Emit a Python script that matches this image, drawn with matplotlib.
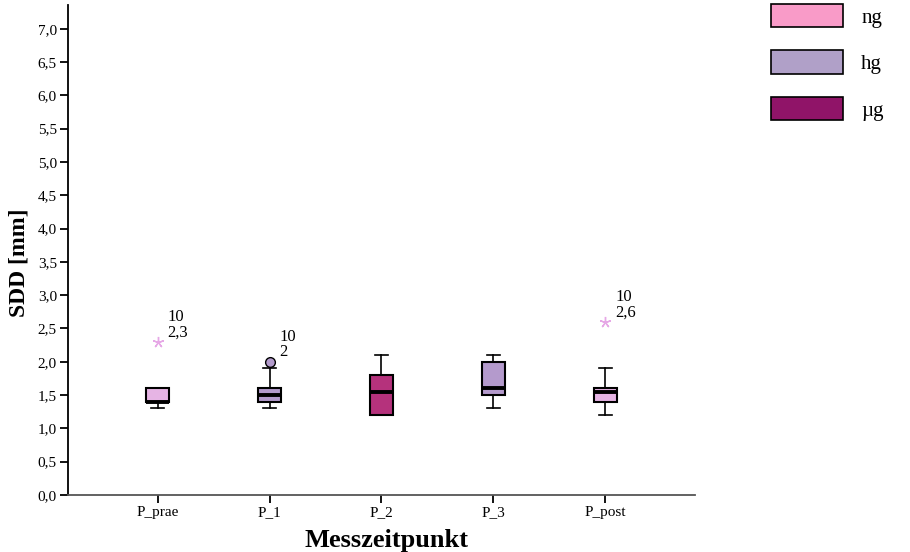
import matplotlib
matplotlib.use("Agg")
import matplotlib.pyplot as plt
import matplotlib.patches as mpatches

plt.rcParams['font.family'] = ['Liberation Serif', 'DejaVu Serif']

# box statistics per measurement point
categories = ["P_prae", "P_1", "P_2", "P_3", "P_post"]
whisker_low = [1.3, 1.3, 1.2, 1.3, 1.2]
q1 = [1.4, 1.4, 1.2, 1.5, 1.4]
medians = [1.4, 1.5, 1.55, 1.6, 1.55]
q3 = [1.6, 1.6, 1.8, 2.0, 1.6]
whisker_high = [1.6, 1.9, 2.1, 2.1, 1.9]
box_colors = ["#e6b4e4", "#b39bcc", "#b5327c", "#b49acc", "#e6b4e4"]

# outliers: (category index, value, case number, marker)
outlier_idx = [0, 1, 4]
outlier_val = [2.3, 2.0, 2.6]
outlier_case = ["10", "10", "10"]
outlier_text = ["2,3", "2", "2,6"]
outlier_marker = ["*", "o", "*"]

legend_labels = ["ng", "hg", "µg"]
legend_colors = ["#f99bc8", "#b0a0c8", "#901468"]

y_ticks = [0.0, 0.5, 1.0, 1.5, 2.0, 2.5, 3.0, 3.5, 4.0, 4.5, 5.0, 5.5, 6.0, 6.5, 7.0]

fig = plt.figure(figsize=(9.1, 5.52), dpi=100)
ax = fig.add_axes([0.0747, 0.1033, 0.689, 0.888])

stats = []
for i, name in enumerate(categories):
    stats.append({"label": name, "whislo": whisker_low[i], "q1": q1[i],
                  "med": medians[i], "q3": q3[i], "whishi": whisker_high[i],
                  "fliers": []})

bp = ax.bxp(stats, positions=range(1, len(categories) + 1), widths=0.21,
            patch_artist=True, showfliers=False,
            boxprops=dict(linewidth=1.5, edgecolor="black"),
            medianprops=dict(color="black", linewidth=2.8),
            whiskerprops=dict(color="black", linewidth=1.2),
            capprops=dict(color="black", linewidth=1.2),
            capwidths=0.12)
for patch, c in zip(bp["boxes"], box_colors):
    patch.set_facecolor(c)

for i, v, case, txt, m in zip(outlier_idx, outlier_val, outlier_case,
                              outlier_text, outlier_marker):
    x = i + 1
    if m == "*":
        # extreme value: thin five-armed asterisk
        ax.plot(x, v, marker=(5, 2, 0), markersize=8, color="#e6a8e6",
                markeredgewidth=1.0, linestyle="none")
    else:
        ax.plot(x, v, marker="o", markersize=7, markerfacecolor=box_colors[i],
                markeredgecolor="black", linestyle="none")
    ax.annotate(case + "\n" + txt, xy=(x, v), xytext=(7, 1),
                textcoords="offset points", fontsize=12, ha="left",
                va="bottom", linespacing=0.95)

ax.set_xlim(0.2, 5.8)
ax.set_ylim(0, 7.36)
ax.set_yticks(y_ticks)
ax.set_yticklabels([f"{t:.1f}".replace(".", ",") for t in y_ticks], fontsize=11)
ax.set_xticks(range(1, len(categories) + 1))
ax.set_xticklabels(categories, fontsize=11)
ax.tick_params(axis="both", direction="out", length=6, width=1.3, pad=2)

ax.spines["top"].set_visible(False)
ax.spines["right"].set_visible(False)
ax.spines["left"].set_linewidth(1.3)
ax.spines["bottom"].set_linewidth(1.3)
ax.spines["bottom"].set_color("#555555")

ax.set_ylabel("SDD [mm]", fontsize=17, fontweight="bold")
ax.yaxis.set_label_coords(-0.061, 0.473)
ax.set_xlabel("Messzeitpunkt", fontsize=19, fontweight="bold")
ax.xaxis.set_label_coords(0.508, -0.07)

handles = [mpatches.Patch(facecolor=c, edgecolor="black", linewidth=1.2, label=l)
           for l, c in zip(legend_labels, legend_colors)]
fig.legend(handles=handles, loc="upper left", bbox_to_anchor=(0.8377, 1.008),
           frameon=False, fontsize=15, handlelength=3.45, handleheight=1.35,
           handletextpad=0.9, labelspacing=1.1, borderaxespad=0)

fig.savefig("out.png", dpi=100, facecolor="white")
